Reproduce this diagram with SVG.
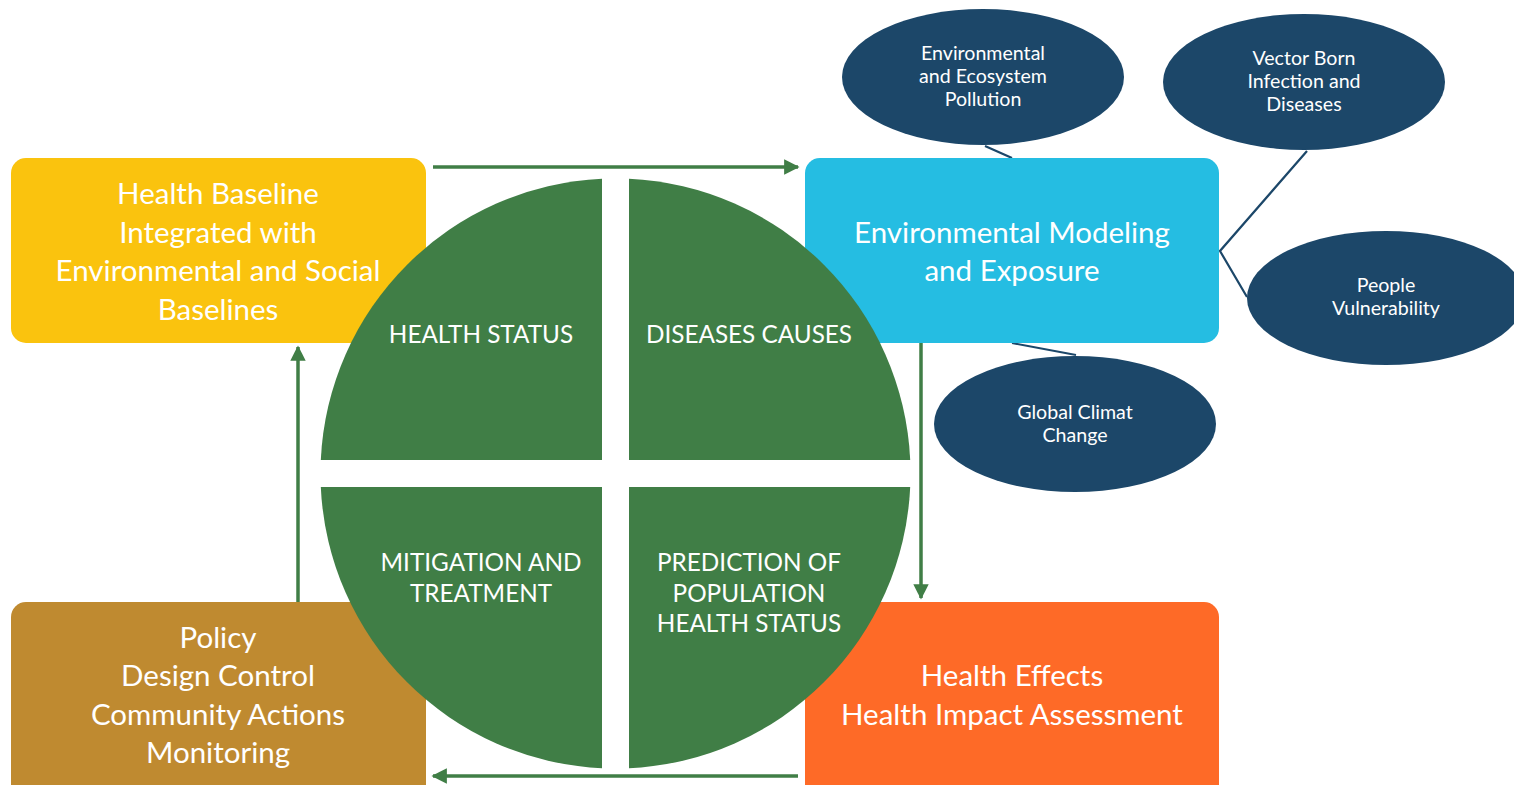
<svg xmlns="http://www.w3.org/2000/svg" width="1514" height="785" viewBox="0 0 1514 785">
<defs>
<style>
.t{font-family:Lato,"Open Sans","Liberation Sans",sans-serif;fill:#fff;text-anchor:middle}
.big{font-size:29.5px}
.q{font-size:24.3px}
.e{font-size:19.6px}
.ell{fill:#1c4769}
.quad{fill:#407e46}
.arr{stroke:#407e46;stroke-width:3.5;fill:none}
.lnk{stroke:#1c4769;stroke-width:2.2;fill:none}
</style>
<marker id="ah" viewBox="0 0 10 10" refX="9" refY="5" markerWidth="4.4" markerHeight="4.4" orient="auto" markerUnits="strokeWidth">
<path d="M0,0 L10,5 L0,10 Z" fill="#407e46"/>
</marker>
</defs>
<rect width="1514" height="785" fill="#fff"/>
<g id="connectors">
<line class="arr" x1="433" y1="167" x2="798" y2="167" marker-end="url(#ah)"/>
<line class="arr" x1="921" y1="343" x2="921" y2="598" marker-end="url(#ah)"/>
<line class="arr" x1="798" y1="776" x2="433" y2="776" marker-end="url(#ah)"/>
<line class="arr" x1="298" y1="602" x2="298" y2="347" marker-end="url(#ah)"/>
<polyline class="lnk" points="985,146 1012,158"/>
<polyline class="lnk" points="1307,151 1220,251 1247,297"/>
<polyline class="lnk" points="1012,343 1076,355"/>
</g>
<g id="box-health-baseline">
<rect x="11" y="158" width="415" height="185" rx="15" fill="#fac30e"/>
<text class="t big"><tspan x="218" y="204">Health Baseline</tspan><tspan x="218" y="243">Integrated with</tspan><tspan x="218" y="281">Environmental and Social</tspan><tspan x="218" y="320">Baselines</tspan></text>
</g>
<g id="box-env-modeling">
<rect x="805" y="158" width="414" height="185" rx="15" fill="#25bde2"/>
<text class="t big"><tspan x="1012" y="243">Environmental Modeling</tspan><tspan x="1012" y="281">and Exposure</tspan></text>
</g>
<g id="box-policy">
<rect x="11" y="602" width="415" height="200" rx="15" fill="#bf8a30"/>
<text class="t big"><tspan x="218" y="648">Policy</tspan><tspan x="218" y="686">Design Control</tspan><tspan x="218" y="725">Community Actions</tspan><tspan x="218" y="763">Monitoring</tspan></text>
</g>
<g id="box-health-effects">
<rect x="805" y="602" width="414" height="200" rx="15" fill="#fe6a27"/>
<text class="t big"><tspan x="1012" y="686">Health Effects</tspan><tspan x="1012" y="725">Health Impact Assessment</tspan></text>
</g>
<g id="circle">
<g id="q-health-status">
<path class="quad" d="M602,460 L320.8,460 A295,295 0 0 1 602,178.8 Z"/>
<text class="t q" x="481" y="343">HEALTH STATUS</text>
</g>
<g id="q-diseases-causes">
<path class="quad" d="M629,460 L629,178.8 A295,295 0 0 1 910.2,460 Z"/>
<text class="t q" x="749" y="343">DISEASES CAUSES</text>
</g>
<g id="q-mitigation">
<path class="quad" d="M602,487 L602,768.2 A295,295 0 0 1 320.8,487 Z"/>
<text class="t q"><tspan x="481" y="571">MITIGATION AND</tspan><tspan x="481" y="602">TREATMENT</tspan></text>
</g>
<g id="q-prediction">
<path class="quad" d="M629,487 L910.2,487 A295,295 0 0 1 629,768.2 Z"/>
<text class="t q"><tspan x="749" y="571">PREDICTION OF</tspan><tspan x="749" y="602">POPULATION</tspan><tspan x="749" y="632">HEALTH STATUS</tspan></text>
</g>
</g>
<g id="ell-pollution">
<ellipse class="ell" cx="983" cy="77" rx="141" ry="68"/>
<text class="t e"><tspan x="983" y="60">Environmental</tspan><tspan x="983" y="83">and Ecosystem</tspan><tspan x="983" y="106">Pollution</tspan></text>
</g>
<g id="ell-vector">
<ellipse class="ell" cx="1304" cy="82" rx="141" ry="68"/>
<text class="t e"><tspan x="1304" y="65">Vector Born</tspan><tspan x="1304" y="88">Infection and</tspan><tspan x="1304" y="111">Diseases</tspan></text>
</g>
<g id="ell-people">
<ellipse class="ell" cx="1386" cy="298" rx="139" ry="67"/>
<text class="t e"><tspan x="1386" y="292">People</tspan><tspan x="1386" y="315">Vulnerability</tspan></text>
</g>
<g id="ell-climate">
<ellipse class="ell" cx="1075" cy="424" rx="141" ry="68"/>
<text class="t e"><tspan x="1075" y="419">Global Climat</tspan><tspan x="1075" y="442">Change</tspan></text>
</g>
</svg>
